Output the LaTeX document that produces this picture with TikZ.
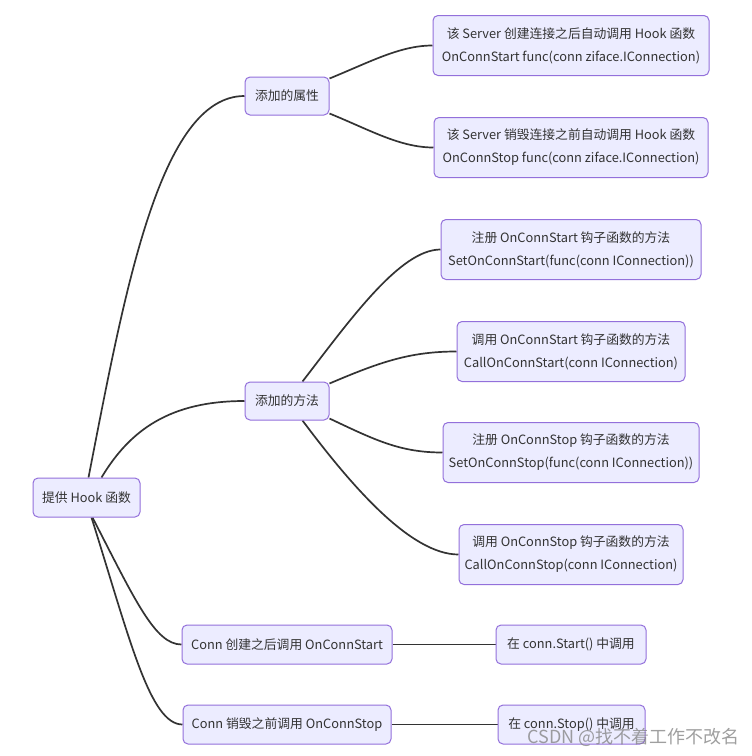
\documentclass[tikz,border=0pt]{standalone}
\usepackage{fontspec}
\setmainfont{Noto Sans CJK SC}
\usetikzlibrary{backgrounds}
\definecolor{boxfill}{HTML}{ECECFF}
\definecolor{boxline}{HTML}{9370DB}
\definecolor{txt}{HTML}{333333}
\definecolor{edge}{HTML}{333333}
\tikzset{
  mbox/.style={draw=boxline, fill=boxfill, line width=1pt, rounded corners=5pt,
    inner sep=0pt, align=center, text=txt, font=\fontsize{12.8}{23}\selectfont},
  link/.style={draw=edge, line width=1.7pt},
  mark wm/.style={text=gray, text opacity=0.75, font=\fontsize{18}{20}\selectfont, inner sep=0pt}
}
\begin{document}
\begin{tikzpicture}[x=1pt,y=-1pt]
\useasboundingbox (0,0) rectangle (752,756);

\node[mbox, minimum width=107pt, minimum height=39pt] (root) at (86.5,497.5) {提供 Hook 函数};
\node[mbox, minimum width=84pt, minimum height=38pt] (attr) at (287,96) {添加的属性};
\node[mbox, minimum width=84pt, minimum height=38pt] (meth) at (287,401) {添加的方法};
\node[mbox, minimum width=276pt, minimum height=60pt] (a1) at (571,45.5) {该 Server 创建连接之后自动调用 Hook 函数\\OnConnStart func(conn ziface.IConnection)};
\node[mbox, minimum width=274pt, minimum height=60pt] (a2) at (571,147.5) {该 Server 销毁连接之前自动调用 Hook 函数\\OnConnStop func(conn ziface.IConnection)};
\node[mbox, minimum width=260pt, minimum height=60pt] (m1) at (571,249.5) {注册 OnConnStart 钩子函数的方法\\SetOnConnStart(func(conn IConnection))};
\node[mbox, minimum width=228pt, minimum height=60pt] (m2) at (571,351.5) {调用 OnConnStart 钩子函数的方法\\CallOnConnStart(conn IConnection)};
\node[mbox, minimum width=256pt, minimum height=60pt] (m3) at (571,452.5) {注册 OnConnStop 钩子函数的方法\\SetOnConnStop(func(conn IConnection))};
\node[mbox, minimum width=224pt, minimum height=60pt] (m4) at (571,554.5) {调用 OnConnStop 钩子函数的方法\\CallOnConnStop(conn IConnection)};
\node[mbox, minimum width=210pt, minimum height=39pt] (c1) at (287,644.5) {Conn 创建之后调用 OnConnStart};
\node[mbox, minimum width=208pt, minimum height=39pt] (c2) at (287,724.5) {Conn 销毁之前调用 OnConnStop};
\node[mbox, minimum width=150pt, minimum height=39pt] (s1) at (571,644.5) {在 conn.Start() 中调用};
\node[mbox, minimum width=147pt, minimum height=39pt] (s2) at (571.5,724.5) {在 conn.Stop() 中调用};

\begin{scope}[on background layer]
\fill[white] (0,0) rectangle (752,756);
\draw[link] ([xshift=56pt]root.north west) .. controls (125,290) and (160,96) .. (attr.west);
\draw[link] ([xshift=69pt]root.north west) .. controls (130,430) and (170,401) .. (meth.west);
\draw[link] ([xshift=60pt]root.south west) .. controls (135,600) and (155,644.5) .. (c1.west);
\draw[link] ([xshift=59pt]root.south west) .. controls (130,640) and (150,724.5) .. (c2.west);
\draw[link] ([yshift=-2pt]attr.north east) .. controls (370,62) and (400,45.5) .. (a1.west);
\draw[link] ([yshift=2pt]attr.south east) .. controls (370,130) and (400,147.5) .. (a2.west);
\draw[link] ([xshift=58pt]meth.north west) .. controls (350,320) and (400,249.5) .. (m1.west);
\draw[link] ([yshift=-2pt]meth.north east) .. controls (380,362) and (410,351.5) .. (m2.west);
\draw[link] ([yshift=2pt]meth.south east) .. controls (375,440) and (400,452.5) .. (m3.west);
\draw[link] ([xshift=58pt]meth.south west) .. controls (350,484) and (410,554.5) .. (m4.west);
\draw[link] (c1.east) -- (s1.west);
\draw[link] (c2.east) -- (s2.west);
\end{scope}

\node[mark wm, anchor=east] (wm) at (740,737) {CSDN @找不着工作不改名};
\end{tikzpicture}
\end{document}
